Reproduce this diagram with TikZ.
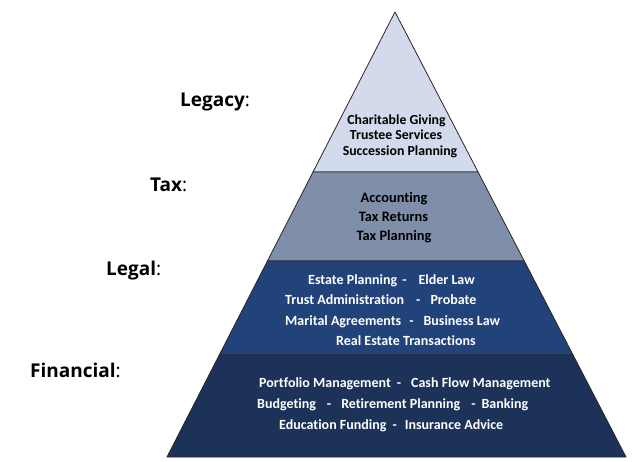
\documentclass[tikz,border=0pt]{standalone}
\usepackage{fontspec}
\setmainfont{Carlito}[Ligatures=NoCommon]
\newfontfamily\labelfont{Open Sans}
\usetikzlibrary{calc}
\definecolor{legacyfill}{HTML}{D3DAEB}
\definecolor{taxfill}{HTML}{7F8EA9}
\definecolor{legalfill}{HTML}{22437A}
\definecolor{financialfill}{HTML}{1C3259}
\newcommand\dashgap[2]{\hspace{#1pt}-\hspace{#2pt}}
\begin{document}
\begin{tikzpicture}[x=1pt, y=-1pt,
   layer/.style={draw=black!85, line width=0.8pt, line join=round},
   item/.style={font=\fontsize{#1}{#1}\selectfont\bfseries, inner sep=0pt, anchor=base},
   item/.default=14.4,
   leftitem/.style={item=14, anchor=base west, text=white},
   tag/.style={font=\labelfont\fontsize{19}{20}\selectfont, anchor=base west, inner sep=0pt}]
   \useasboundingbox[fill=white] (0,0) rectangle (632,461);
   \coordinate (top) at (395,12);
   \coordinate (bl) at (167,457);
   \coordinate (br) at (626,457);
   \coordinate (l1) at ($(top)!0.3596!(bl)$);
   \coordinate (r1) at ($(top)!0.3596!(br)$);
   \coordinate (l2) at ($(top)!0.5596!(bl)$);
   \coordinate (r2) at ($(top)!0.5596!(br)$);
   \coordinate (l3) at ($(top)!0.7708!(bl)$);
   \coordinate (r3) at ($(top)!0.7708!(br)$);
   % layers, top to bottom
   \draw[layer, fill=legacyfill] (top) -- (l1) -- (r1) -- cycle;
   \draw[layer, fill=taxfill] (l1) -- (l2) -- (r2) -- (r1) -- cycle;
   \draw[layer, fill=legalfill] (l2) -- (l3) -- (r3) -- (r2) -- cycle;
   \draw[layer, fill=financialfill] (l3) -- (bl) -- (br) -- (r3) -- cycle;
   % legacy items
   \node[item=13.8] (giving) at (396.5,124) {Charitable Giving};
   \node[item=13.8] (trustee) at (396,139.5) {Trustee Services};
   \node[item=13.8] (succession) at (400,155) {Succession Planning};
   % tax items
   \node[item] (accounting) at (394,202) {Accounting};
   \node[item] (returns) at (393.5,221) {Tax Returns};
   \node[item] (taxplanning) at (394,240) {Tax Planning};
   % legal items
   \node[leftitem] (estate) at (308,284) {Estate Planning\dashgap{5}{12}Elder Law};
   \node[leftitem] (trust) at (285,304) {Trust Administration\dashgap{12}{10}Probate};
   \node[leftitem] (marital) at (285,325) {Marital Agreements\dashgap{8}{10}Business Law};
   \node[leftitem] (realestate) at (336,345.5) {Real Estate Transactions};
   % financial items
   \node[leftitem] (portfolio) at (259,387.5) {Portfolio Management\dashgap{6}{10}Cash Flow Management};
   \node[leftitem] (budgeting) at (257,408) {Budgeting\dashgap{11}{10}Retirement Planning\dashgap{11}{6}Banking};
   \node[leftitem] (education) at (279,429.5) {Education Funding\dashgap{6}{8}Insurance Advice};
   % labels
   \node[tag] (legacy) at (180,106) {\textbf{Legacy}:};
   \node[tag] (tax) at (150,191) {\textbf{Tax}:};
   \node[tag] (legal) at (106,275) {\textbf{Legal}:};
   \node[tag] (financial) at (30,377) {\textbf{Financial}:};
\end{tikzpicture}
\end{document}
